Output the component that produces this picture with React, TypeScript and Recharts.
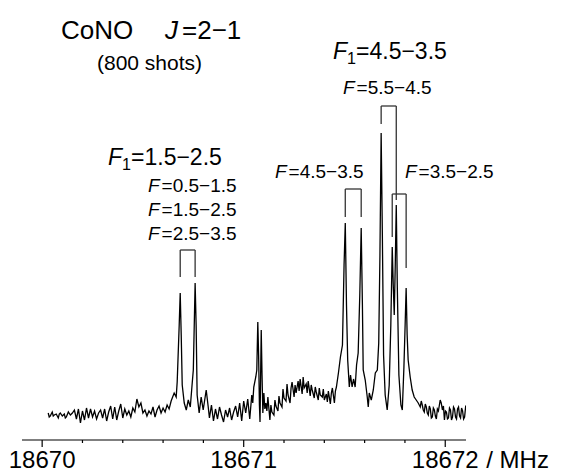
import { LineChart, Line, XAxis, YAxis, ReferenceLine } from "recharts";

// frequency offsets in MHz above 18670, intensity in arbitrary units (baseline ~ 0)
const BASE_MHZ = 18670;

const baselineLeft: [number, number][] = [
  [0.03, 2], [0.035, -2], [0.04, -1], [0.05, 3], [0.055, -1], [0.06, 0], [0.07, 1], [0.08, -3],
  [0.085, 1], [0.09, 2], [0.1, -1], [0.11, 1], [0.115, -3], [0.12, -2], [0.13, 3], [0.14, 0],
  [0.15, 2], [0.16, 5], [0.17, -4], [0.18, 6], [0.19, -8], [0.2, 4], [0.21, -5], [0.22, 7],
  [0.23, -3], [0.24, 6], [0.25, -2], [0.26, 4], [0.27, -4], [0.28, 2], [0.29, 5], [0.3, -3],
  [0.31, 6], [0.32, -6], [0.33, 3], [0.34, 9], [0.35, -4], [0.36, 8], [0.37, -5], [0.38, 4],
  [0.39, 11], [0.4, -3], [0.41, 6], [0.42, 0], [0.43, 4], [0.44, -2], [0.45, 7], [0.46, 3],
  [0.47, 16], [0.48, 8], [0.49, 12], [0.5, 2], [0.51, 5], [0.52, -1], [0.53, 4], [0.54, 1],
  [0.55, 8], [0.56, -2], [0.57, 5], [0.58, 9], [0.59, 2], [0.6, 7], [0.61, 3], [0.62, 10],
  [0.63, 6],
];

// F1 = 1.5-2.5 doublet
const groupLow: [number, number][] = [
  [0.64, 14], [0.655, 22], [0.665, 18], [0.67, 33], [0.68, 90], [0.685, 122], [0.69, 80],
  [0.695, 30], [0.705, 12], [0.715, 5], [0.725, 15], [0.735, 8], [0.745, 33], [0.75, 45],
  [0.759, 132], [0.764, 90], [0.769, 20], [0.779, 2], [0.789, 18], [0.799, 5], [0.814, 25],
  [0.824, 8],
];

const baselineMid: [number, number][] = [
  [0.83, -3], [0.84, 10], [0.85, -6], [0.86, 6], [0.87, -4], [0.88, 8], [0.89, 0], [0.9, -7],
  [0.91, 5], [0.92, -2], [0.93, 7], [0.94, -5], [0.95, 3], [0.96, 9], [0.97, -2], [0.98, 12],
  [0.99, -6], [1.0, 14], [1.01, 2], [1.02, 16], [1.03, -4], [1.04, 20], [1.045, 12], [1.05, 28],
  [1.06, 38],
];

// narrow feature near 18671.08
const centreFeature: [number, number][] = [
  [1.065, 45], [1.07, 93], [1.074, 60], [1.078, 10], [1.081, -7], [1.084, 40], [1.087, 85],
  [1.091, 40], [1.095, 2], [1.1, 22],
];

const plateau: [number, number][] = [
  [1.105, 6], [1.11, 12], [1.115, 4], [1.12, 18], [1.13, -5], [1.135, 10], [1.14, 3], [1.15, 0],
  [1.155, 15], [1.16, 9], [1.17, 4], [1.175, 19], [1.18, 12], [1.19, 8], [1.195, 26],
  [1.2, 17], [1.21, 14], [1.215, 31], [1.22, 20], [1.23, 12], [1.235, 27], [1.24, 33],
  [1.25, 18], [1.255, 30], [1.26, 22], [1.27, 34], [1.275, 24], [1.28, 36], [1.29, 21],
  [1.295, 38], [1.3, 27], [1.31, 31], [1.315, 22], [1.32, 34], [1.33, 19], [1.335, 30],
  [1.34, 25], [1.35, 17], [1.355, 28], [1.36, 23], [1.37, 15], [1.375, 27], [1.38, 20],
  [1.39, 18], [1.395, 26], [1.4, 15], [1.41, 21], [1.415, 13], [1.42, 24], [1.43, 11],
  [1.435, 22], [1.44, 27], [1.45, 12], [1.455, 24], [1.46, 28], [1.47, 42], [1.48, 58],
];

// F1 = 4.5-3.5 group
const groupHigh: [number, number][] = [
  [1.49, 70], [1.498, 150], [1.504, 192], [1.51, 110], [1.516, 55], [1.524, 28], [1.53, 40],
  [1.538, 28], [1.545, 36], [1.553, 28], [1.56, 50], [1.568, 62], [1.576, 120], [1.583, 187],
  [1.589, 110], [1.593, 45], [1.603, 35], [1.613, 18], [1.618, 8], [1.623, 22], [1.633, 15],
  [1.643, 25], [1.653, 42], [1.663, 45], [1.67, 72], [1.676, 160], [1.682, 282], [1.688, 180],
  [1.694, 60], [1.702, 20], [1.712, 5], [1.722, 30], [1.73, 90], [1.737, 168], [1.742, 130],
  [1.747, 100], [1.752, 150], [1.757, 210], [1.762, 130], [1.77, 40], [1.78, 10], [1.787, 5],
  [1.795, 48], [1.801, 90], [1.806, 127], [1.811, 80], [1.816, 55], [1.826, 38], [1.836, 25],
  [1.846, 18], [1.856, 15], [1.866, 12], [1.876, 8],
];

const baselineRight: [number, number][] = [
  [1.881, 14], [1.886, 10], [1.891, 5], [1.896, 3], [1.901, 11], [1.906, 8], [1.911, 2],
  [1.916, 0], [1.921, 9], [1.926, 6], [1.931, -3], [1.936, -2], [1.941, 7], [1.946, 5],
  [1.951, -1], [1.956, -4], [1.961, 6], [1.966, 4], [1.971, 10], [1.975, 15], [1.98, 12],
  [1.986, 5], [1.991, 9], [1.996, -5], [2.001, 4], [2.006, 3], [2.011, -4], [2.016, -3],
  [2.021, 7], [2.026, 5], [2.031, -5], [2.036, -2], [2.041, 8], [2.046, 6], [2.051, -2],
  [2.056, -4], [2.061, 6], [2.066, 8], [2.071, -1], [2.076, -3], [2.081, 7], [2.086, 4],
  [2.091, -4], [2.096, -2], [2.101, 8], [2.106, 6], [2.111, -2], [2.116, 0], [2.12, 7],
  [2.124, 5],
];

const tickValues = [
  18670, 18670.2, 18670.4, 18670.6, 18670.8, 18671, 18671.2, 18671.4, 18671.6, 18671.8, 18672,
];

// hyperfine brackets: [left offset, right offset, top, left leg end, right leg end]
const brackets: [number, number, number, number, number][] = [
  [0.685, 0.759, 165, 138, 138],
  [1.504, 1.583, 226, 198, 198],
  [1.682, 1.757, 309, 291, 215],
  [1.737, 1.806, 221, 178, 147],
];

const spectrum = [
  ...baselineLeft,
  ...groupLow,
  ...baselineMid,
  ...centreFeature,
  ...plateau,
  ...groupHigh,
  ...baselineRight,
].map(([off, v]) => ({ freq: BASE_MHZ + off, value: v }));

const FONT = "'Liberation Sans', Arial, Helvetica, sans-serif";
const TICK_FS = 24;

function FreqTick(props: any) {
  const { x, y, payload } = props;
  const v = payload.value as number;
  const major = Math.abs(v - Math.round(v)) < 1e-6;
  return (
    <g>
      <line x1={x} x2={x} y1={y} y2={y + (major ? 7 : 3)} stroke="#000" strokeWidth={1.2} />
      {major && (
        <text x={x} y={y + 28} textAnchor="middle" fontSize={TICK_FS} fontFamily={FONT} fill="#000">
          {v}
        </text>
      )}
      {major && v === 18672 && (
        <text x={x + 41} y={y + 28} fontSize={TICK_FS} fontFamily={FONT} fill="#000">
          / MHz
        </text>
      )}
    </g>
  );
}

function Fsub({ x, y, size, rest }: { x: number; y: number; size: number; rest: string }) {
  return (
    <text x={x} y={y} fontSize={size} fontFamily={FONT} fill="#000">
      <tspan fontStyle="italic">F</tspan>
      <tspan fontSize={size * 0.7} dy={size * 0.22}>1</tspan>
      <tspan dy={-size * 0.22}>{rest}</tspan>
    </text>
  );
}

function Fline({ x, y, rest }: { x: number; y: number; rest: string }) {
  return (
    <text x={x} y={y} fontSize={19} fontFamily={FONT} fill="#000">
      <tspan fontStyle="italic">F</tspan>
      <tspan dx={2}>{rest}</tspan>
    </text>
  );
}

export default function App() {
  return (
    <div style={{ position: "absolute", left: 0, top: 0, width: 582, height: 473, background: "#fff" }}>
      <LineChart
        width={582}
        height={473}
        data={spectrum}
        margin={{ top: 20, right: 116, bottom: 3, left: 22 }}
      >
        <XAxis
          dataKey="freq"
          type="number"
          domain={[18669.9, 18672.103]}
          allowDataOverflow
          ticks={tickValues}
          interval={0}
          tickSize={0}
          tickMargin={0}
          tickLine={false}
          height={30}
          stroke="#000"
          strokeWidth={1.2}
          tick={<FreqTick />}
        />
        <YAxis hide width={0} type="number" domain={[-25, 395]} allowDataOverflow />
        {brackets.map(([a, b, top, l, r], i) => (
          <g key={i}>
            <ReferenceLine
              segment={[{ x: BASE_MHZ + a, y: l }, { x: BASE_MHZ + a, y: top }]}
              stroke="#333"
              strokeWidth={1.3}
              ifOverflow="visible"
            />
            <ReferenceLine
              segment={[{ x: BASE_MHZ + a, y: top }, { x: BASE_MHZ + b, y: top }]}
              stroke="#333"
              strokeWidth={1.3}
              ifOverflow="visible"
            />
            <ReferenceLine
              segment={[{ x: BASE_MHZ + b, y: top }, { x: BASE_MHZ + b, y: r }]}
              stroke="#333"
              strokeWidth={1.3}
              ifOverflow="visible"
            />
          </g>
        ))}
        <Line
          type="linear"
          dataKey="value"
          stroke="#000"
          strokeWidth={1.3}
          dot={false}
          activeDot={false}
          isAnimationActive={false}
        />
      </LineChart>
      <svg
        width={582}
        height={473}
        style={{ position: "absolute", left: 0, top: 0, pointerEvents: "none" }}
      >
        <text x={61} y={39} fontSize={26} fontFamily={FONT} fill="#000">
          CoNO
        </text>
        <text x={165} y={39} fontSize={26} fontFamily={FONT} fill="#000">
          <tspan fontStyle="italic">J</tspan>
          <tspan dx={4}>=2−1</tspan>
        </text>
        <text x={97} y={70} fontSize={21} fontFamily={FONT} fill="#000">
          (800 shots)
        </text>
        <Fsub x={108} y={165} size={23} rest="=1.5−2.5" />
        <Fline x={148} y={192} rest="=0.5−1.5" />
        <Fline x={148} y={216} rest="=1.5−2.5" />
        <Fline x={148} y={240} rest="=2.5−3.5" />
        <Fsub x={333} y={59} size={23} rest="=4.5−3.5" />
        <Fline x={343} y={94} rest="=5.5−4.5" />
        <Fline x={275} y={178} rest="=4.5−3.5" />
        <Fline x={405} y={178} rest="=3.5−2.5" />
      </svg>
    </div>
  );
}
